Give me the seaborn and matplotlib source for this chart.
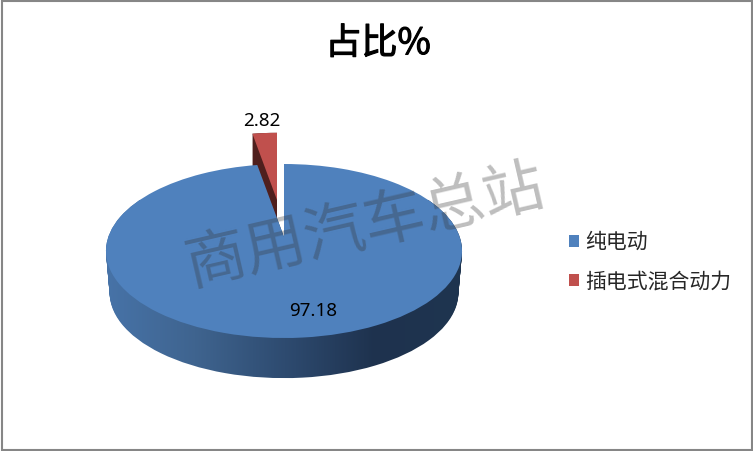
import numpy as np
import matplotlib
matplotlib.use("Agg")
import matplotlib.pyplot as plt
import matplotlib.patheffects as pe
import seaborn as sns
from matplotlib.colors import LinearSegmentedColormap
from matplotlib.patches import Rectangle
from matplotlib.transforms import Transform

# Data
labels = ["纯电动", "插电式混合动力"]
values = [97.18, 2.82]
title = "占比%"
watermark = "商用汽车总站"

sns.set_theme(style="white")
plt.rcParams['font.family'] = ['Noto Sans CJK SC', 'DejaVu Sans']
palette = sns.color_palette(["#4F81BD", "#C0504D"])
wall_colors = ["#4773A8", "#3F648F", "#2E4B70", "#1E324E", "#1F3550"]
no_edge = {"linewidth": 0}


# tilted disc: unit circle -> screen pixels, far edge smaller than near edge
class Persp(Transform):
    input_dims = 2
    output_dims = 2

    def __init__(self, cx, cy, a, b, k=0.161):
        super().__init__()
        self.cx, self.cy, self.a, self.b, self.k = cx, cy, a, b, k

    def transform_non_affine(self, xy):
        xy = np.asarray(xy, dtype=float)
        w = 1 + self.k * xy[:, 1]
        return np.column_stack([self.cx + self.a * xy[:, 0] / w,
                                self.cy - self.b * xy[:, 1] / w])


fig = plt.figure(figsize=(7.53, 4.51), dpi=100)
ax = fig.add_axes([0, 0, 1, 1])

# --- Side wall of the big slice: gradient clipped to stacked discs ---
wall_cmap = LinearSegmentedColormap.from_list("wall", wall_colors)
for depth in range(0, 41):
    base, _ = ax.pie(values, startangle=90, counterclock=False, colors=palette,
                     wedgeprops=no_edge)
    base[0].set_transform(Persp(284, 237 + depth * 1.05, 175.7 - depth * 0.09,
                                84.75 - depth * 0.04) + ax.transData)
    base[0].set_visible(False)
    base[1].set_visible(False)
    im = ax.imshow(np.linspace(0, 1, 256)[None, :], cmap=wall_cmap, aspect="auto",
                   extent=[105, 465, 385, 200], zorder=1)
    im.set_clip_path(base[0])

# --- Side of the pulled out slice ---
for depth in range(0, 41):
    dark, _ = ax.pie(values, startangle=90, counterclock=False,
                     colors=["none", "#4F1F1D"], wedgeprops=no_edge)
    dark[1].set_transform(Persp(277, 200 + depth, 161.6, 78) + ax.transData)
    dark[1].set_zorder(2)
    dark[0].set_visible(False)

# --- Top faces ---
top, _ = ax.pie(values, startangle=90, counterclock=False, colors=palette,
                wedgeprops=no_edge)
top[0].set_transform(Persp(284, 237, 175.7, 84.75) + ax.transData)
top[1].set_transform(Persp(277, 200, 161.6, 78) + ax.transData)
top[0].set_zorder(3)
top[1].set_zorder(3)

ax.set_aspect("auto")
ax.set_xlim(0, 753)
ax.set_ylim(451, 0)
ax.axis("off")

# Labels and title
ax.text(262, 121, f"{values[1]:.2f}", ha="center", va="center", fontsize=13.5,
        family="Noto Sans", color="black", zorder=5)
ax.text(313, 311, f"{values[0]:.2f}", ha="center", va="center", fontsize=13.5,
        family="Noto Sans", color="black", zorder=5)
ax.text(378, 44, title, ha="center", va="center", fontsize=26, color="black", zorder=5,
        path_effects=[pe.withStroke(linewidth=0.8, foreground="black")])

# Watermark across the pie
ax.text(365, 227, watermark, ha="center", va="center", fontsize=44, rotation=13,
        rotation_mode="anchor", color="#353535", alpha=0.32, zorder=4)

leg = ax.legend(top, labels, loc="upper left", bbox_to_anchor=(569 / 753, 1 - 231 / 451),
                bbox_transform=fig.transFigure, frameon=False, fontsize=15,
                handlelength=0.5, handleheight=0.5, handletextpad=0.3,
                labelspacing=0.82, borderpad=0, borderaxespad=0)

# Chart border
fig.add_artist(Rectangle((1.5 / 753, 1.5 / 451), 750 / 753, 448.5 / 451, fill=False,
                         edgecolor="#868686", linewidth=1.5, transform=fig.transFigure))

fig.savefig("out.png", dpi=100)
